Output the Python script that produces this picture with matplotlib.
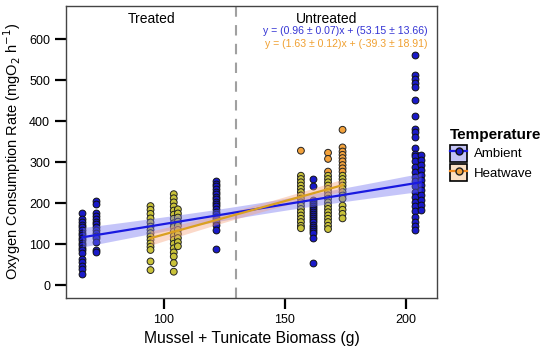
import matplotlib

matplotlib.use("Agg")
import matplotlib.pyplot as plt
import numpy as np
from matplotlib.lines import Line2D
from matplotlib.patches import Patch
from matplotlib.legend_handler import HandlerTuple

plt.rcParams["font.family"] = ["Liberation Sans", "DejaVu Sans"]

# Ambient columns: biomass (g) and oxygen consumption rates
amb_x = [66.4, 72.0, 105.4, 121.7, 161.6, 203.9, 206.2]
amb_y = [
    [176, 161, 154, 147, 142, 135, 128, 123, 116, 110, 104, 98, 92, 85, 78, 63, 56, 48, 40, 28],
    [206, 198, 177, 170, 162, 155, 149, 142, 135, 128, 121, 115, 106, 86, 80],
    [172, 163, 154, 146, 138],
    [253, 246, 241, 234, 228, 222, 216, 210, 204, 198, 192, 185, 179, 173, 167, 161, 155, 147, 135, 88],
    [259, 243, 208, 203, 198, 193, 188, 183, 178, 173, 168, 163, 158, 153, 148, 143, 138, 133, 128, 116, 54],
    [561, 513, 503, 493, 484, 452, 412, 381, 373, 362, 334, 320, 314, 302, 289, 277, 265, 253,
     241, 228, 216, 204, 192, 180, 167, 155, 145, 135],
    [318, 306, 293, 281, 269, 257, 245, 232, 220, 208, 196, 184],
]

# Heatwave columns
heat_x = [94.5, 104.1, 105.8, 156.6, 167.8, 173.8]
heat_y = [
    [193, 184, 174, 163, 153, 143, 135, 127, 119, 111, 102, 94, 86, 58, 37],
    [222, 212, 202, 192, 182, 172, 162, 151, 142, 131, 120, 111, 101, 90, 80, 70, 54, 33],
    [185, 175, 165, 155, 145, 135, 125, 115, 105, 95],
    [328, 267, 259, 251, 243, 235, 227, 219, 211, 202, 194, 186, 178, 170, 162, 154, 145, 139],
    [323, 308, 277, 267, 259, 251, 243, 235, 227, 219, 211, 202, 194, 186, 178, 170, 162, 154, 145, 137],
    [379, 336, 326, 318, 310, 302, 293, 285, 277, 267, 259, 251, 243, 235, 227, 219, 211, 194, 184, 174, 163],
]

# fitted models as printed on the chart: (slope, slope se, intercept, intercept se)
amb_fit = (0.96, 0.07, 53.15, 13.66)
heat_fit = (1.63, 0.12, -39.3, 18.91)

threshold_x = 130
group_labels = ["Treated", "Untreated"]
series_names = ["Ambient", "Heatwave"]


def flatten(xs, ys):
    px = np.concatenate([[x] * len(col) for x, col in zip(xs, ys)])
    py = np.concatenate([np.asarray(col, float) for col in ys])
    return px, py


def band(px, py, slope, intercept, grid):
    n = len(px)
    resid = py - (slope * px + intercept)
    s = np.sqrt(np.sum(resid ** 2) / (n - 2))
    xbar = px.mean()
    sxx = np.sum((px - xbar) ** 2)
    return 1.98 * s * np.sqrt(1.0 / n + (grid - xbar) ** 2 / sxx)


fig = plt.figure(figsize=(5.5, 3.48), dpi=100)
ax = fig.add_axes([0.12, 0.145, 0.675, 0.838])

ax_px, ax_py = flatten(amb_x, amb_y)
hx_px, hx_py = flatten(heat_x, heat_y)

heat_colors = ["#f3a23c" if v > 270 else "#c9c23a" for v in hx_py]

ax.scatter(ax_px, ax_py, s=24, c="#1a1ac8", edgecolors="#111111", linewidths=0.7, zorder=2)
ax.scatter(hx_px, hx_py, s=24, c=heat_colors, edgecolors="#222222", linewidths=0.7, zorder=2)

ax.axvline(threshold_x, color="#a0a0a0", linestyle=(0, (5, 4)), linewidth=1.5, zorder=1)

for px, py, fit, fill, line_c in [
    (ax_px, ax_py, amb_fit, "#7070f0", "#1a1ae0"),
    (hx_px, hx_py, heat_fit, "#f6a07a", "#daa020"),
]:
    slope, _, intercept, _ = fit
    grid = np.linspace(px.min(), px.max(), 100)
    yhat = slope * grid + intercept
    hw = band(px, py, slope, intercept, grid)
    ax.fill_between(grid, yhat - hw, yhat + hw, color=fill, alpha=0.4, linewidth=0, zorder=3)
    ax.plot(grid, yhat, color=line_c, linewidth=1.6, zorder=4)

ax.text(95, 650, group_labels[0], ha="center", va="center", fontsize=10)
ax.text(167, 650, group_labels[1], ha="center", va="center", fontsize=10)
a = amb_fit
h = heat_fit
ax.text(209, 619, f"y = ({a[0]:.2f} \u00b1 {a[1]:.2f})x + ({a[2]:.2f} \u00b1 {a[3]:.2f})",
        ha="right", va="center", fontsize=7.6, color="#3434d4")
ax.text(209, 588, f"y = ({h[0]:.2f} \u00b1 {h[1]:.2f})x + ({h[2]:.1f} \u00b1 {h[3]:.2f})",
        ha="right", va="center", fontsize=7.6, color="#f0a030")

ax.set_xlim(59.6, 212.9)
ax.set_ylim(-30, 681)
ax.set_xticks([100, 150, 200])
ax.set_yticks(range(0, 601, 100))
ax.tick_params(axis="both", length=8, width=1.6, labelsize=9, color="black")
for spine in ax.spines.values():
    spine.set_color("#444444")
    spine.set_linewidth(1.0)

ax.set_xlabel("Mussel + Tunicate Biomass (g)", fontsize=11.3)
ax.set_ylabel("Oxygen Consumption Rate (mgO$_2$ h$^{-1}$)", fontsize=10.5)

handles = [
    (Patch(facecolor="#c4c4f6", edgecolor="black", linewidth=1.2),
     Line2D([0], [0], color="#1a1ae0", lw=1.6, marker="o", markersize=5,
            markerfacecolor="#1a1ac8", markeredgecolor="#111111")),
    (Patch(facecolor="#fbe0c4", edgecolor="black", linewidth=1.2),
     Line2D([0], [0], color="#f08a20", lw=1.6, marker="o", markersize=5,
            markerfacecolor="#f3a23c", markeredgecolor="#222222")),
]
leg = ax.legend(handles, series_names, handler_map={tuple: HandlerTuple(ndivide=1, pad=0)},
                title="Temperature", loc="center left", bbox_to_anchor=(1.01, 0.49),
                frameon=False, fontsize=9.5, title_fontsize=11, handlelength=1.3,
                handleheight=1.6, handletextpad=0.5, labelspacing=0.2, borderpad=0.2)
leg.get_title().set_fontweight("bold")
leg._legend_box.align = "left"

fig.savefig("out.png", dpi=100)
